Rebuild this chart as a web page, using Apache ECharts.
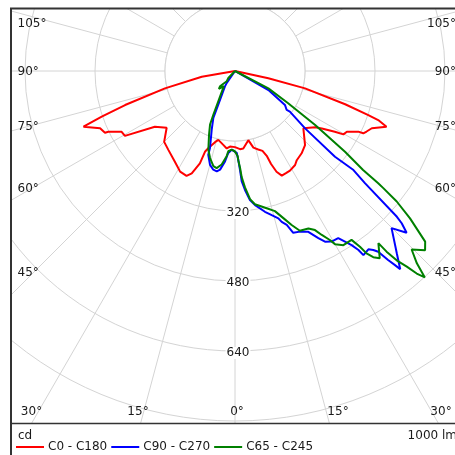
<!DOCTYPE html>
<html><head><meta charset="utf-8">
<script src="https://cdn.jsdelivr.net/npm/echarts@6/dist/echarts.min.js"></script>
<style>html,body{margin:0;padding:0;background:#fff}#c{width:455px;height:455px}</style>
</head><body><div id="c"></div>
<script>
// ---- data (gamma in degrees, negative = left half; intensity in cd) ----
const seriesNames = ['C0 - C180', 'C90 - C270', 'C65 - C245'];
const seriesColors = ['#ff0000', '#0000ff', '#008000'];

const redGamma = [-90,-80.3,-76.1,-72.8,-71.1,-69.8,-67.0,-64.6,-64.4,-61.8,-59.5,-59.7,-55.2,-50.3,-45.0,-40.2,-33.5,-28.6,-24.8,-22.9,-20.8,-20.4,-19.1,-15.7,-13.6,-12.4,-9.0,-6.1,-3.8,0,3.7,6.1,10.9,12.4,13.5,16.5,19.0,20.5,21.2,22.4,24.1,26.5,28.9,32.6,34.7,39.0,43.4,50.0,54.9,56.5,58.7,59.7,59.5,61.5,63.8,64.1,65.3,67.3,69.8,71.1,71.7,73.2,76.1,77.6,90];
const redCd    = [0,77,165,263,322,369,335,329,321,294,292,287,223,203,229,236,249,262,264,254,226,197,187,169,162,159,171,178,173,174,179,178,161,160,180,187,193,207,228,249,262,261,260,255,248,242,233,204,224,238,267,287,292,291,314,326,331,339,369,346,321,263,165,78,0];

const blueGamma = [-90,-34.7,-33.2,-26.4,-24.8,-21.7,-18.0,-17.7,-14.9,-12.4,-10.3,-8.6,-6.3,-4.7,-2.4,1.2,2.1,2.9,3.5,4.8,6.6,8.5,12.0,14.3,16.4,17.2,18.6,19.8,22.0,24.5,26.5,27.8,29.5,31.7,32.8,33.8,34.6,34.9,36.8,37.7,38.4,39.0,39.5,39.8,41.6,44.9,44.8,46.7,47.6,48.0,49.2,50.1,49.4,50.7,53.5,53.0,55.8,60.3,90];
const blueCd    = [0,33,42,86,118,144,185,201,222,231,233,228,208,188,180,187,203,227,253,273,297,310,329,340,351,361,371,393,396,404,427,441,448,449,464,479,497,513,509,517,527,556,575,590,557,507,503,539,516,498,393,353,301,207,156,148,138,88,0];

const greenGamma = [-90,-43.7,-38.9,-44.4,-42.1,-36.3,-28.9,-26.4,-25.0,-22.2,-18.7,-16.0,-12.8,-10.7,-8.1,-5.6,-4.8,-2.4,0,1.8,2.1,3.0,3.6,4.9,6.7,8.5,13.0,15.9,18.2,20.2,22.1,25.0,26.7,27.9,29.3,30.0,31.9,34.6,35.4,35.8,36.6,37.7,39.8,40.0,40.5,41.3,41.9,42.6,43.4,44.7,46.7,48.1,49.9,51.1,51.7,51.9,52.3,53.7,56.0,58.8,62.5,90];
const greenCd    = [0,22,30,49,55,43,79,111,135,157,190,207,223,226,216,196,184,180,184,195,204,222,243,267,295,308,322,333,354,375,394,397,407,424,443,457,469,469,493,514,530,541,512,539,569,595,622,641,605,574,597,584,523,475,432,416,370,312,221,142,86,0];

const radiusMax = 960;
const radiusStep = 160;
const angleStep = 15;
const radiusTickLabels = [320, 480, 640];
const sideAngleLabels = ['105°', '90°', '75°', '60°', '45°'];
const bottomAngleLabels = ['30°', '15°', '0°', '15°', '30°'];
const unitLabel = 'cd';
const fluxLabel = '1000 lm';

// ---- layout ----
const FONT = '12px "DejaVu Sans", Verdana, sans-serif';
const TXT = '#1a1a1a';
const GRID = '#d4d4d4';
const CX = 235, CY = 71, R = 420;
const sideLabelY = [23.5, 71.5, 127, 188.5, 273];
const bottomLabelX = [31.5, 138, 237, 338, 441];

function toPolar(g, c) { return g.map((v, i) => [c[i], (v + 360) % 360]); }
const dataSets = [toPolar(redGamma, redCd), toPolar(blueGamma, blueCd), toPolar(greenGamma, greenCd)];

const chart = echarts.init(document.getElementById('c'), null, {renderer: 'canvas'});

const option = {
  animation: false,
  backgroundColor: '#fff',
  polar: { center: [CX, CY], radius: R },
  angleAxis: {
    type: 'value', min: 0, max: 360, interval: angleStep,
    startAngle: 270, clockwise: false,
    axisLine: { show: false }, axisTick: { show: false }, axisLabel: { show: false },
    splitLine: { show: true, lineStyle: { color: GRID, width: 1 } },
    z: 0
  },
  radiusAxis: {
    type: 'value', min: 0, max: radiusMax, interval: radiusStep,
    axisLine: { show: false }, axisTick: { show: false }, axisLabel: { show: false },
    splitLine: { show: true, lineStyle: { color: GRID, width: 1 } },
    z: 0
  },
  legend: {
    data: seriesNames, left: 16, top: 441, padding: 0,
    itemWidth: 28, itemHeight: 2, itemGap: 4, icon: 'rect',
    textStyle: { fontFamily: '"DejaVu Sans", Verdana, sans-serif', fontSize: 12, color: TXT, padding: [0,0,0,-1] },
    z: 4
  },
  series: seriesNames.map((n, i) => ({
    name: n, type: 'line', coordinateSystem: 'polar',
    data: dataSets[i], showSymbol: false, symbol: 'none',
    lineStyle: { color: seriesColors[i], width: 2 },
    itemStyle: { color: seriesColors[i] },
    z: 2
  }))
};
chart.setOption(option);

// ---- decorations / labels ----
const g = [];
// inner blank disc (spokes start at first circle)
const p160 = chart.convertToPixel({polarIndex: 0}, [radiusStep, 0]);
const rIn = Math.abs(p160[1] - CY);
g.push({ type: 'circle', z: 1, silent: true, shape: { cx: CX, cy: CY, r: rIn },
  style: { fill: '#fff', stroke: GRID, lineWidth: 1 } });
// covers outside the frame
g.push({ type: 'rect', z: 3, silent: true, shape: { x: 0, y: 0, width: 455, height: 8 }, style: { fill: '#fff' } });
g.push({ type: 'rect', z: 3, silent: true, shape: { x: 0, y: 0, width: 11, height: 455 }, style: { fill: '#fff' } });
g.push({ type: 'rect', z: 3, silent: true, shape: { x: 0, y: 424, width: 455, height: 31 }, style: { fill: '#fff' } });
// frame
g.push({ type: 'rect', z: 6, silent: true, shape: { x: 11, y: 8.5, width: 480, height: 480 },
  style: { fill: null, stroke: '#333', lineWidth: 2 } });
g.push({ type: 'line', z: 6, silent: true, shape: { x1: 11, y1: 423.5, x2: 470, y2: 423.5 },
  style: { stroke: '#333', lineWidth: 1.5 } });
// radius labels
radiusTickLabels.forEach(v => {
  const p = chart.convertToPixel({polarIndex: 0}, [v, 0]);
  g.push({ type: 'text', z: 5, silent: true, x: p[0] + 3, y: p[1] + 2,
    style: { text: String(v), font: FONT, fill: TXT, align: 'center', verticalAlign: 'middle',
      backgroundColor: '#fff', padding: [0, 1] } });
});
// angle labels on sides
sideAngleLabels.forEach((t, i) => {
  g.push({ type: 'text', z: 5, silent: true, x: 17.5, y: sideLabelY[i],
    style: { text: t, font: FONT, fill: TXT, align: 'left', verticalAlign: 'middle' } });
  g.push({ type: 'text', z: 5, silent: true, x: 456, y: sideLabelY[i],
    style: { text: t, font: FONT, fill: TXT, align: 'right', verticalAlign: 'middle' } });
});
bottomAngleLabels.forEach((t, i) => {
  g.push({ type: 'text', z: 5, silent: true, x: bottomLabelX[i], y: 412,
    style: { text: t, font: FONT, fill: TXT, align: 'center', verticalAlign: 'middle' } });
});
g.push({ type: 'text', z: 5, silent: true, x: 18, y: 436,
  style: { text: unitLabel, font: FONT, fill: TXT, align: 'left', verticalAlign: 'middle' } });
g.push({ type: 'text', z: 5, silent: true, x: 457, y: 436,
  style: { text: fluxLabel, font: FONT, fill: TXT, align: 'right', verticalAlign: 'middle' } });

chart.setOption({ graphic: { elements: g } });
</script></body></html>
